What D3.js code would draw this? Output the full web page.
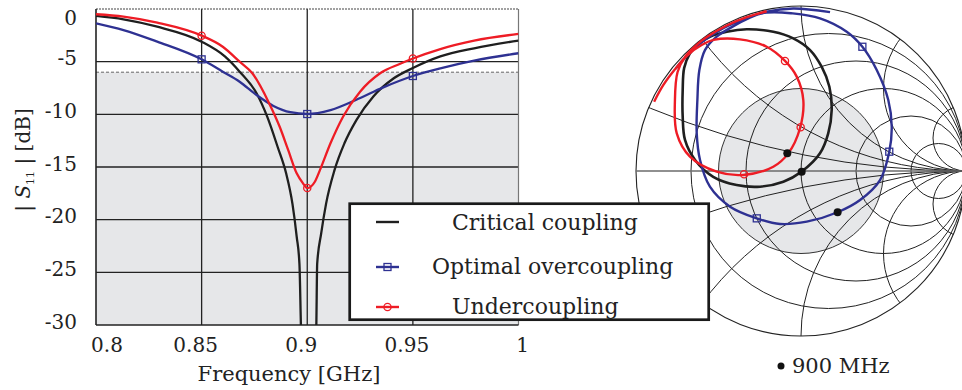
<!DOCTYPE html>
<meta charset="utf-8">
<script src="https://d3js.org/d3.v7.min.js"></script>
<style>
  body { margin: 0; background: #fff; }
  text { font-family: "DejaVu Serif", serif; fill: #222; }
</style>
<div id="chart"></div>
<script>

// |S11| versus frequency (GHz, dB)
var freqCritical = [0.800, 0.813, 0.829, 0.850, 0.861, 0.868, 0.876, 0.881, 0.886, 0.890, 0.893, 0.895, 0.8963, 0.897, 0.9005, 0.9043, 0.9047, 0.9066, 0.9089, 0.9129, 0.9176, 0.9234, 0.9313, 0.9408, 0.950, 0.963, 0.979, 1.000];
var dbCritical   = [-0.66, -0.98, -1.68, -3.1, -4.5, -5.95, -8.0, -10.2, -13.1, -15.6, -18.5, -21.6, -24.2, -30, -50, -30, -24.2, -21.3, -18.5, -15.3, -12.75, -10.5, -8.3, -6.6, -5.6, -4.5, -3.73, -3.0];

var freqOver = [0.800, 0.813, 0.829, 0.850, 0.860, 0.868, 0.876, 0.884, 0.892, 0.900, 0.911, 0.923, 0.936, 0.950, 0.963, 0.979, 1.000];
var dbOver   = [-1.36, -2.0, -3.1, -4.78, -5.95, -6.9, -8.17, -9.2, -9.8, -9.97, -9.6, -8.64, -7.44, -6.36, -5.63, -4.9, -4.2];

var freqUnder = [0.800, 0.813, 0.829, 0.850, 0.860, 0.868, 0.874, 0.882, 0.887, 0.891, 0.895, 0.898, 0.900, 0.9036, 0.906, 0.911, 0.917, 0.925, 0.9345, 0.944, 0.950, 0.963, 0.979, 1.000];
var dbUnder   = [-0.5, -0.73, -1.3, -2.53, -3.58, -5.0, -6.1, -8.96, -11.2, -13.4, -15.6, -16.55, -17.0, -16.4, -15.3, -12.75, -10.2, -7.85, -6.1, -5.2, -4.7, -3.8, -3.0, -2.37];

var markerFreqs = [0.85, 0.9, 0.95];
var markerOver  = [-4.78, -9.97, -6.36];
var markerUnder = [-2.53, -17.0, -4.7];

var xTicks = [0.8, 0.85, 0.9, 0.95, 1];
var xTickLabels = ["0.8", "0.85", "0.9", "0.95", "1"];
var yTicks = [0, -5, -10, -15, -20, -25, -30];
var matchLevel = -6;

// reflection coefficient traces on the Smith chart (re, im)
var smithCritical = [[-0.675, 0.71], [-0.632, 0.764], [-0.552, 0.814], [-0.45, 0.844], [-0.329, 0.859], [-0.168, 0.844], [-0.047, 0.804], [0.055, 0.733], [0.125, 0.632], [0.172, 0.511], [0.186, 0.37], [0.165, 0.228], [0.115, 0.107], [0.004, -0.004], [-0.107, -0.065], [-0.248, -0.095], [-0.39, -0.085], [-0.532, -0.035], [-0.642, 0.067], [-0.703, 0.188], [-0.717, 0.329], [-0.717, 0.491], [-0.708, 0.625]];
var smithOver = [[-0.76, 0.62], [-0.68, 0.71], [-0.557, 0.813], [-0.386, 0.906], [-0.208, 0.96], [-0.05, 0.955], [0.115, 0.925], [0.277, 0.844], [0.372, 0.753], [0.459, 0.612], [0.529, 0.43], [0.55, 0.268], [0.535, 0.117], [0.479, -0.055], [0.358, -0.176], [0.222, -0.25], [0.035, -0.307], [-0.127, -0.321], [-0.268, -0.287], [-0.43, -0.216], [-0.552, -0.095], [-0.612, 0.067], [-0.632, 0.228], [-0.628, 0.43], [-0.616, 0.612], [-0.582, 0.733], [-0.511, 0.814], [-0.42, 0.872], [-0.31, 0.93], [-0.208, 0.965], [-0.047, 0.985], [0.176, 0.963]];
var smithUnder = [[-0.89, 0.42], [-0.835, 0.52], [-0.765, 0.615], [-0.69, 0.70], [-0.6, 0.765], [-0.53, 0.795], [-0.37, 0.798], [-0.208, 0.753], [-0.097, 0.667], [-0.026, 0.572], [0.014, 0.43], [-0.006, 0.259], [-0.077, 0.107], [-0.168, 0.026], [-0.35, -0.024], [-0.511, -0.004], [-0.673, 0.087], [-0.753, 0.228], [-0.764, 0.43], [-0.748, 0.6], [-0.7, 0.695], [-0.62, 0.775], [-0.571, 0.812], [-0.45, 0.882], [-0.329, 0.932], [-0.208, 0.968]];

var smithMarkOver  = [[0.372, 0.753], [0.535, 0.117], [-0.268, -0.287]];
var smithMarkUnder = [[-0.097, 0.667], [-0.002, 0.265], [-0.345, -0.02]];
var smith900 = [[0.004, -0.004], [-0.083, 0.108], [0.222, -0.25]];

var resistances = [0.2, 0.5, 1, 2, 5];
var reactances = [0.2, 0.5, 1, 2, 5, -0.2, -0.5, -1, -2, -5];

var cBlack = "#1f1f1f", cBlue = "#2e3192", cRed = "#ee1c25";

var svg = d3.select("#chart").append("svg")
  .attr("width", 962)
  .attr("height", 390);

// ---------- left: |S11| plot ----------
var x = d3.scaleLinear().domain([0.8, 1]).range([96, 518.5]);
var y = d3.scaleLinear().domain([-30, 0]).range([325, 9]);

svg.append("clipPath").attr("id", "plotclip")
  .append("rect")
  .attr("x", x(0.8)).attr("y", y(0))
  .attr("width", x(1) - x(0.8)).attr("height", y(-30) - y(0));

svg.append("rect")
  .attr("x", x(0.8)).attr("y", y(matchLevel))
  .attr("width", x(1) - x(0.8)).attr("height", y(-30) - y(matchLevel))
  .style("fill", "#e6e7e9");

svg.append("line")
  .attr("x1", x(0.8)).attr("x2", x(1))
  .attr("y1", y(matchLevel)).attr("y2", y(matchLevel))
  .style("stroke", "#666").style("stroke-width", 1).style("stroke-dasharray", "3,2");

svg.selectAll(".vgrid")
  .data(xTicks.slice(1, -1))
  .enter().append("line")
  .attr("x1", d => x(d)).attr("x2", d => x(d))
  .attr("y1", y(0)).attr("y2", y(-30))
  .style("stroke", "#222").style("stroke-width", 1.3);

svg.selectAll(".hgrid")
  .data(yTicks.slice(1, -1))
  .enter().append("line")
  .attr("x1", x(0.8)).attr("x2", x(1))
  .attr("y1", d => y(d)).attr("y2", d => y(d))
  .style("stroke", "#222").style("stroke-width", 1.3);

// frame
svg.append("line").attr("x1", x(0.8)).attr("x2", x(1)).attr("y1", y(0)).attr("y2", y(0))
  .style("stroke", "#444").style("stroke-width", 1.2).style("stroke-dasharray", "2,1");
svg.append("line").attr("x1", x(1)).attr("x2", x(1)).attr("y1", y(0)).attr("y2", y(-30))
  .style("stroke", "#777").style("stroke-width", 1.2);
svg.append("line").attr("x1", x(0.8)).attr("x2", x(0.8)).attr("y1", y(0)).attr("y2", y(-30))
  .style("stroke", "#222").style("stroke-width", 1.6);
svg.append("line").attr("x1", x(0.8)).attr("x2", x(1)).attr("y1", y(-30)).attr("y2", y(-30))
  .style("stroke", "#222").style("stroke-width", 1.6);

// tick labels
svg.selectAll(".ylab")
  .data(yTicks)
  .enter().append("text")
  .attr("x", 77)
  .attr("y", d => Math.max(y(d) + 3.5, 24.5))
  .attr("text-anchor", "end")
  .style("font-size", "20px")
  .text(d => d);

svg.selectAll(".xlab")
  .data(xTicks)
  .enter().append("text")
  .attr("x", (d, i) => x(d) + (i == 0 ? 11 : i == xTicks.length - 1 ? 4 : -6))
  .attr("y", 352)
  .attr("text-anchor", "middle")
  .style("font-size", "20px")
  .text((d, i) => xTickLabels[i]);

svg.append("text")
  .attr("x", 289).attr("y", 381)
  .attr("text-anchor", "middle")
  .style("font-size", "21px")
  .text("Frequency [GHz]");

var ytitle = svg.append("text")
  .attr("transform", "translate(30,160) rotate(-90)")
  .attr("text-anchor", "middle")
  .style("font-size", "20px");
ytitle.append("tspan").text("| ");
ytitle.append("tspan").style("font-style", "italic").text("S");
ytitle.append("tspan").attr("dy", 4).style("font-size", "11px").text("11");
ytitle.append("tspan").attr("dy", -4).text(" | [dB]");

var s11Line = d3.line()
  .x(d => x(d[0]))
  .y(d => y(d[1]))
  .curve(d3.curveMonotoneX);

var plot = svg.append("g").attr("clip-path", "url(#plotclip)");

plot.append("path")
  .attr("d", s11Line(d3.zip(freqCritical, dbCritical)))
  .style("fill", "none").style("stroke", cBlack).style("stroke-width", 2.3);
plot.append("path")
  .attr("d", s11Line(d3.zip(freqOver, dbOver)))
  .style("fill", "none").style("stroke", cBlue).style("stroke-width", 2.3);
plot.append("path")
  .attr("d", s11Line(d3.zip(freqUnder, dbUnder)))
  .style("fill", "none").style("stroke", cRed).style("stroke-width", 2.3);

function square(g, cx, cy, color) {
  g.append("rect")
    .attr("x", cx - 3.5).attr("y", cy - 3.5)
    .attr("width", 7).attr("height", 7)
    .style("fill", "none").style("stroke", color).style("stroke-width", 1.3);
}
function ring(g, cx, cy, color) {
  g.append("circle")
    .attr("cx", cx).attr("cy", cy).attr("r", 3.6)
    .style("fill", "none").style("stroke", color).style("stroke-width", 1.3);
}

markerFreqs.forEach((f, i) => {
  square(svg, x(f), y(markerOver[i]), cBlue);
  ring(svg, x(f), y(markerUnder[i]), cRed);
});

// ---------- right: Smith chart ----------
var sx = d3.scaleLinear().domain([-1, 1]).range([636, 966]);
var sy = d3.scaleLinear().domain([-1, 1]).range([336, 6]);
var k = (sx(1) - sx(-1)) / 2;

svg.append("clipPath").attr("id", "smithclip")
  .append("circle").attr("cx", sx(0)).attr("cy", sy(0)).attr("r", k);

var smith = svg.append("g");

smith.append("circle")
  .attr("cx", sx(0)).attr("cy", sy(0)).attr("r", k * 0.5)
  .style("fill", "#e6e7e9").style("stroke", "#333").style("stroke-width", 1);

var grid = smith.append("g").attr("clip-path", "url(#smithclip)");

grid.selectAll(".rcirc")
  .data(resistances)
  .enter().append("circle")
  .attr("cx", d => sx(d / (1 + d)))
  .attr("cy", sy(0))
  .attr("r", d => k / (1 + d))
  .style("fill", "none").style("stroke", "#222").style("stroke-width", 1);

grid.selectAll(".xarc")
  .data(reactances)
  .enter().append("circle")
  .attr("cx", sx(1))
  .attr("cy", d => sy(1 / d))
  .attr("r", d => k / Math.abs(d))
  .style("fill", "none").style("stroke", "#222").style("stroke-width", 1);

smith.append("circle")
  .attr("cx", sx(0)).attr("cy", sy(0)).attr("r", k)
  .style("fill", "none").style("stroke", "#222").style("stroke-width", 1.1);

smith.append("line")
  .attr("x1", sx(-1)).attr("x2", sx(1))
  .attr("y1", sy(0)).attr("y2", sy(0))
  .style("stroke", "#6b6b6b").style("stroke-width", 1.6);

var smithLine = d3.line()
  .x(d => sx(d[0]))
  .y(d => sy(d[1]))
  .curve(d3.curveCatmullRom.alpha(0.5));

smith.append("path")
  .attr("d", smithLine.curve(d3.curveCatmullRomClosed.alpha(0.5))(smithCritical))
  .style("fill", "none").style("stroke", cBlack).style("stroke-width", 2.6);
smithLine.curve(d3.curveCatmullRom.alpha(0.5));
smith.append("path")
  .attr("d", smithLine(smithOver))
  .style("fill", "none").style("stroke", cBlue).style("stroke-width", 2.4);
smith.append("path")
  .attr("d", smithLine(smithUnder))
  .style("fill", "none").style("stroke", cRed).style("stroke-width", 2.4);

smithMarkOver.forEach(p => square(smith, sx(p[0]), sy(p[1]), cBlue));
smithMarkUnder.forEach(p => ring(smith, sx(p[0]), sy(p[1]), cRed));

smith.selectAll(".dot900")
  .data(smith900)
  .enter().append("circle")
  .attr("cx", d => sx(d[0])).attr("cy", d => sy(d[1]))
  .attr("r", 4)
  .style("fill", "#111");

// 900 MHz note
svg.append("circle").attr("cx", 781).attr("cy", 366).attr("r", 3.5).style("fill", "#111");
svg.append("text")
  .attr("x", 792).attr("y", 373)
  .style("font-size", "21px")
  .text("900 MHz");

// ---------- legend ----------
var legend = svg.append("g");
legend.append("rect")
  .attr("x", 349.7).attr("y", 203.7)
  .attr("width", 359).attr("height", 116)
  .style("fill", "#fff").style("stroke", "#1a1a1a").style("stroke-width", 2.7);

var legendItems = [
  {label: "Critical coupling", color: cBlack, mark: null, ly: 222, tx: 452, ty: 230},
  {label: "Optimal overcoupling", color: cBlue, mark: "square", ly: 267, tx: 432, ty: 274},
  {label: "Undercoupling", color: cRed, mark: "ring", ly: 307, tx: 452, ty: 314}
];

legendItems.forEach(it => {
  legend.append("line")
    .attr("x1", 376).attr("x2", 399)
    .attr("y1", it.ly).attr("y2", it.ly)
    .style("stroke", it.color).style("stroke-width", 2.4);
  if (it.mark == "square") square(legend, 387.5, it.ly, it.color);
  if (it.mark == "ring") ring(legend, 387.5, it.ly, it.color);
  legend.append("text")
    .attr("x", it.tx).attr("y", it.ty)
    .style("font-size", "22px")
    .text(it.label);
});

</script>
